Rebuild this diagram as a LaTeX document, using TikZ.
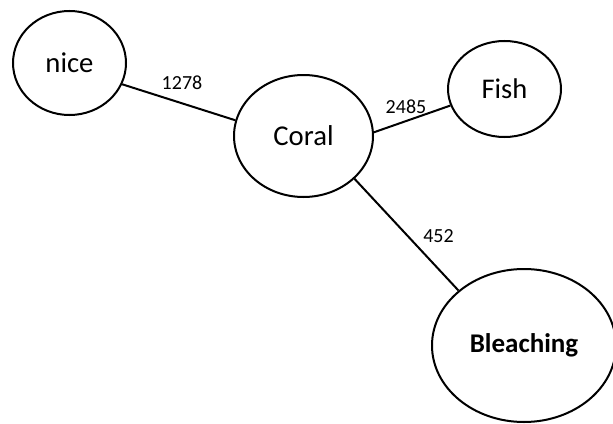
\documentclass[tikz,border=0pt]{standalone}
\usepackage{fontspec}
\setmainfont{Carlito}
\usetikzlibrary{shapes.geometric}
\begin{document}
\begin{tikzpicture}[x=1pt,y=-1pt,
  topic/.style={ellipse,draw=black,line width=2pt,inner sep=0pt,fill=white},
  link/.style={draw=black,line width=2pt},
  weight/.style={font=\fontsize{20}{24}\selectfont,inner sep=0pt}]
  \useasboundingbox (0,0) rectangle (613,423);
  % topic nodes
  \node[topic,minimum width=113pt,minimum height=104pt,font=\fontsize{28.7}{34}\selectfont] (nice) at (69.5,63) {nice};
  \node[topic,minimum width=139pt,minimum height=122pt,font=\fontsize{28.7}{34}\selectfont] (coral) at (303.5,136) {Coral};
  \node[topic,minimum width=113pt,minimum height=96pt,font=\fontsize{28.5}{34}\selectfont] (fish) at (504.5,89) {Fish};
  \node[topic,minimum width=184pt,minimum height=153pt,font=\fontsize{27}{32}\selectfont\bfseries] (bleach) at (524,345.5) {Bleaching};
  % links between topics
  \draw[link] (nice.-22) -- (coral.167);
  \draw[link] (coral.3) -- (fish.197);
  \draw[link] (coral.-40) -- (bleach.140);
  % link weights
  \node[weight] (w1) at (182,83) {1278};
  \node[weight] (w2) at (406,106.5) {2485};
  \node[weight] (w3) at (438.5,236) {452};
\end{tikzpicture}
\end{document}
